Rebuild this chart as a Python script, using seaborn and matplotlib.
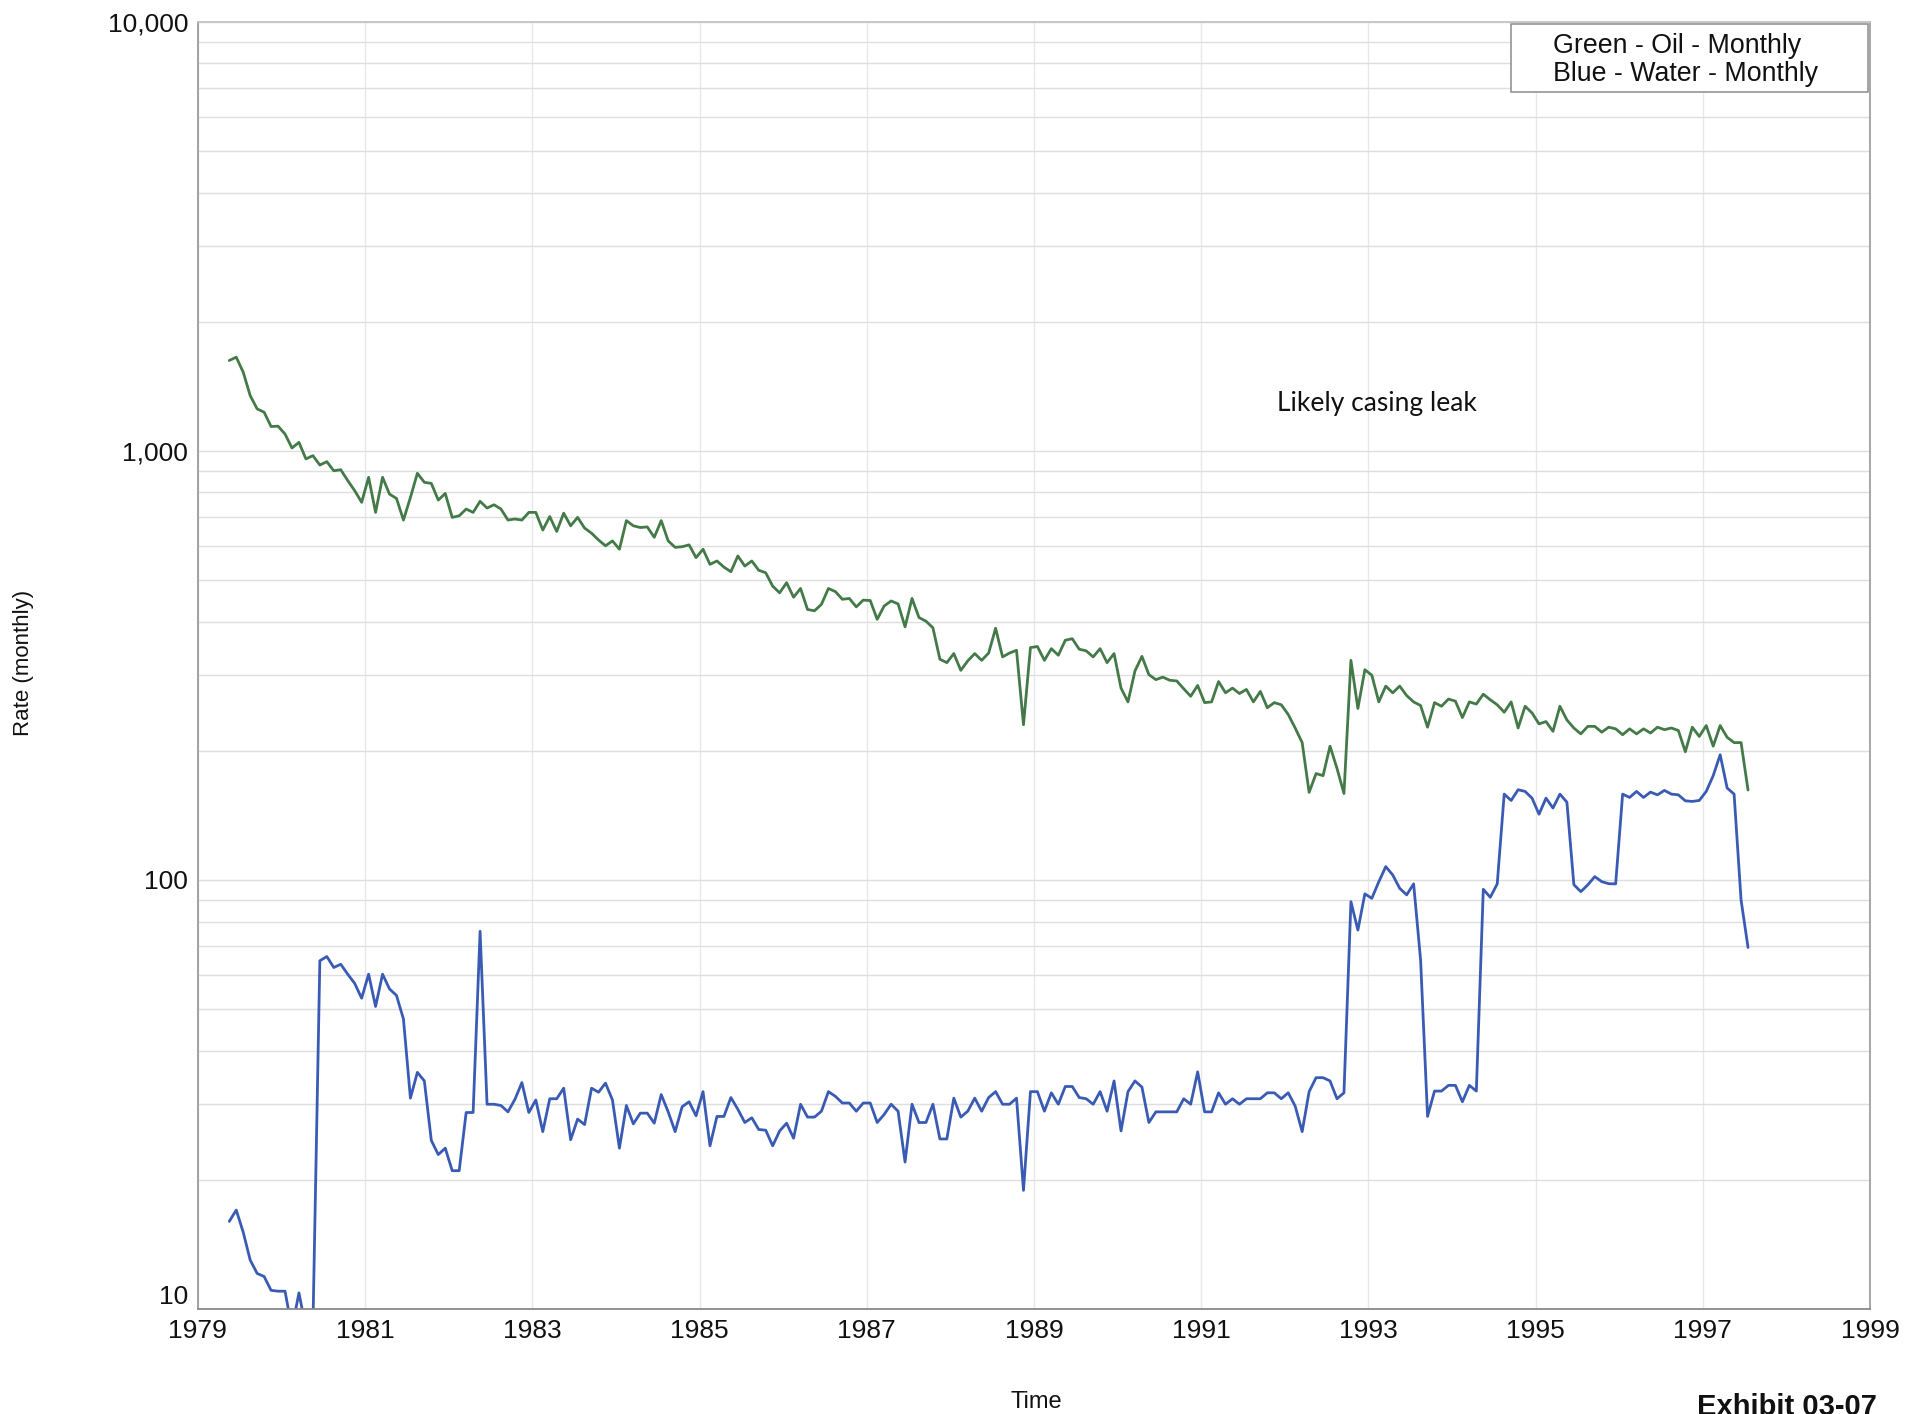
import numpy as np
import pandas as pd
import matplotlib
matplotlib.use("Agg")
import matplotlib.pyplot as plt
import seaborn as sns
from matplotlib.patches import Rectangle
from matplotlib.ticker import FixedLocator, LogLocator, NullFormatter

# Monthly production rates, first month May 1979
START_YEAR = 1979
START_MONTH = 5

OIL_RATE = [
    1625, 1654, 1526, 1346, 1253, 1231, 1140, 1142, 1095, 1016,
    1047, 958, 975, 927, 944, 899, 904, 853, 808, 759,
    868, 719, 868, 793, 775, 690, 779, 887, 845, 840,
    768, 796, 700, 706, 732, 719, 763, 736, 749, 732,
    690, 694, 690, 719, 719, 654, 703, 649, 716, 669,
    700, 661, 643, 620, 601, 617, 590, 688, 669, 663,
    665, 629, 688, 617, 596, 598, 604,
    564, 590, 544, 554, 536, 523, 569, 539, 554, 527,
    520, 484, 467, 493, 456, 478, 427, 424, 439, 478,
    470, 451, 453, 433, 449, 448, 405, 435, 447, 440,
    389, 453, 409, 401, 387, 327, 321, 337, 308, 324,
    337, 325, 338, 386, 331, 338, 343, 230, 348, 350,
    325, 346, 334, 362, 365, 345, 342, 331, 346, 321,
    337, 280, 260, 307, 332, 301, 293, 297, 292,
    291, 279, 268, 284, 259, 260, 290, 273, 280, 272,
    278, 260, 275, 252, 259,
    256, 243, 226, 209, 160, 177, 175, 205, 182, 159,
    325, 251, 309, 300, 260, 283, 273, 283, 269, 260,
    255, 227, 259, 254, 264, 261, 239, 260, 257,
    271, 263, 256, 246, 260, 226, 254, 245, 231, 234,
    222, 254, 236, 226, 219, 228, 228, 221, 227, 225,
    218, 225, 219, 225, 220, 227, 224, 226, 223, 199, 227,
    216, 229, 205, 229, 215, 209, 209, 162,
]

WATER_RATE = [
    16.0, 17.0, 15.1, 13.0, 12.1, 11.9, 11.05, 11.0, 11.0, 9.0,
    10.9, 9.0, 9.0,
    64.8, 66.3, 62.5, 63.6, 60.3, 57.4, 53.0, 60.3, 50.7, 60.3,
    55.7, 53.8, 47.4, 31.0, 35.6, 34.0, 24.7, 22.9, 23.7, 21.0,
    21.0, 28.7, 28.7, 75.9, 30.0, 30.0, 29.8, 28.8, 30.8, 33.7,
    28.7, 30.7, 25.9, 30.9, 30.9, 32.7, 24.8, 27.7, 26.9, 32.7,
    32.0, 33.6, 30.7, 23.7, 29.8, 27.0, 28.6, 28.6, 27.1, 31.6,
    28.8, 25.9, 29.6, 30.4,
    28.2, 32.1, 24.0, 28.1, 28.1, 31.1, 29.2, 27.2, 27.9, 26.2,
    26.1, 24.0, 26.0, 27.1, 25.0, 30.0, 28.0, 28.0, 28.9, 32.1,
    31.3, 30.2, 30.2, 28.9, 30.2, 30.2, 27.2, 28.4, 30.0, 28.9,
    22.0, 30.0, 27.2, 27.2, 30.0, 24.9, 24.9, 31.0, 28.0, 28.9,
    31.0, 28.9, 31.1, 32.1, 30.0, 30.0, 31.0, 18.9, 32.1, 32.1,
    28.9, 31.9, 30.0, 33.0, 33.0, 31.1, 30.9, 30.0, 32.1, 28.9,
    34.0, 26.0, 32.1, 34.0, 32.9, 27.2, 28.8, 28.8, 28.8, 28.8,
    30.9, 30.0, 35.7, 28.8, 28.8, 31.9, 30.0, 30.9, 30.0, 30.9,
    30.9, 30.9, 31.9, 31.9, 30.9, 31.9, 29.7, 25.9, 32.1, 34.6,
    34.6, 34.0, 30.9, 31.9,
    89.0, 76.4, 92.8, 90.6, 99.0, 107.4, 102.7, 95.6, 92.3, 97.9,
    65.1, 28.1, 32.2, 32.2, 33.2, 33.2, 30.4, 33.2, 32.2, 95.1,
    91.1, 97.9,
    158.5, 153.2, 162.3, 160.8, 155.1, 142.3, 155.1, 147.1, 158.5, 151.8,
    97.5, 93.9, 97.4, 101.8, 99.1, 98.0, 97.9,
    158.5, 155.7, 160.8, 155.7, 160.2, 157.9, 161.7, 158.5, 157.9, 152.9,
    152.4, 153.2, 160.8, 175.0, 195.8, 163.8, 158.5,
    89.8, 69.6,
]

Y_TICKS = [10, 100, 1000, 10000]
Y_TICK_LABELS = ["10", "100", "1,000", "10,000"]
X_TICKS = list(range(1979, 2000, 2))
LEGEND_LINES = ["Green - Oil - Monthly", "Blue - Water - Monthly"]
NOTE = "Likely casing leak"
EXHIBIT = "Exhibit 03-07"

GREEN = "#437a48"
BLUE = "#3a5bb4"

n_oil = len(OIL_RATE)
n_water = len(WATER_RATE)
oil_years = START_YEAR + (START_MONTH - 1 + 0.5 + np.arange(n_oil)) / 12.0
water_years = START_YEAR + (START_MONTH - 1 + 0.5 + np.arange(n_water)) / 12.0
df = pd.DataFrame({
    "year": np.concatenate([oil_years, water_years]),
    "rate": np.concatenate([OIL_RATE, WATER_RATE]),
    "series": ["Oil"] * n_oil + ["Water"] * n_water,
})

sns.set_theme(style="white")
plt.rcParams["font.family"] = ["Liberation Sans", "DejaVu Sans"]

fig = plt.figure(figsize=(19.05, 14.14), dpi=100)
ax = fig.add_axes([0.1039, 0.0743, 0.8777, 0.9102])

sns.lineplot(data=df, x="year", y="rate", hue="series",
             palette={"Oil": GREEN, "Water": BLUE},
             estimator=None, sort=False, linewidth=2.0,
             legend=False, ax=ax)

ax.set_yscale("log")
ax.set_ylim(10, 10000)
ax.set_xlim(1979, 1999)

ax.yaxis.set_major_locator(FixedLocator(Y_TICKS))
ax.set_yticklabels(Y_TICK_LABELS)
ax.yaxis.set_minor_locator(LogLocator(base=10, subs=range(2, 10)))
ax.yaxis.set_minor_formatter(NullFormatter())
ax.set_xticks(X_TICKS)
ax.set_xticklabels([str(y) for y in X_TICKS])

ax.set_axisbelow(True)
ax.grid(True, which="both", axis="y", color="#dedede", linewidth=1.0)
ax.grid(True, which="major", axis="x", color="#e8e8e8", linewidth=1.0)

ax.tick_params(axis="both", which="both", length=0, labelsize=19,
               labelcolor="#111111", pad=7)
ax.get_yticklabels()[0].set_va("bottom")

ax.set_xlabel("")
ax.set_ylabel("")
for side, col in [("left", "#9a9a9a"), ("bottom", "#8a8a8a"),
                  ("top", "#c4c4c4"), ("right", "#a0a0a0")]:
    ax.spines[side].set_color(col)
    ax.spines[side].set_linewidth(1.3)

# Series key in the top-right corner
ax.add_patch(Rectangle((0.7853, 0.9456), 0.2135, 0.0528, transform=ax.transAxes,
                       facecolor="white", edgecolor="#8c8c8c", linewidth=1.1,
                       zorder=5))
for txt, yy in zip(LEGEND_LINES, [0.9815, 0.9597]):
    ax.text(0.8104, yy, txt, transform=ax.transAxes, fontsize=19.3,
            ha="left", va="center", color="#111111", zorder=6)

ax.text(1993.1, 1290, NOTE, fontsize=19, ha="center", va="center",
        color="#111111", family=["Lato", "DejaVu Sans"])

fig.text(24 / 1905, 1 - 663 / 1414, "Rate (monthly)", rotation=90,
         ha="center", va="center", fontsize=16, color="#111111")
fig.text(1036 / 1905, 1 - 1402 / 1414, "Time", ha="center", va="center",
         fontsize=17, color="#111111")
fig.text(1697 / 1905, 1 - 1393 / 1414, EXHIBIT, ha="left", va="top",
         fontsize=21, fontweight="bold", color="#111111")

fig.savefig("out.png", dpi=100, facecolor="white")
